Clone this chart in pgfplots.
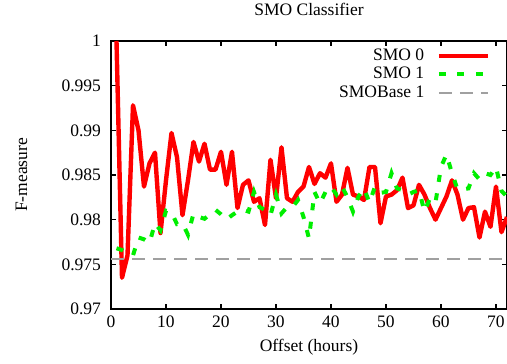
\documentclass[border=0pt]{standalone}
\usepackage{pgfplots}
\pgfplotsset{compat=1.18}
\usepackage{fontspec}
\setmainfont{Liberation Serif}
\definecolor{smored}{RGB}{255,0,0}
\definecolor{smogreen}{RGB}{0,238,0}
\definecolor{smogray}{RGB}{160,160,160}
\begin{document}
\begin{tikzpicture}
\useasboundingbox (0,0) rectangle (507bp,364bp);
\begin{axis}[
  at={(111bp,55bp)}, anchor=south west,
  scale only axis, width=396bp, height=268bp,
  xmin=0, xmax=72, ymin=0.97, ymax=1,
  xtick={0,10,20,30,40,50,60,70},
  ytick={0.97,0.975,0.98,0.985,0.99,0.995,1},
  yticklabels={0.97,0.975,0.98,0.985,0.99,0.995,1},
  scaled y ticks=false,
  /pgf/number format/assume math mode=true,
  font=\fontsize{17.5bp}{20bp}\selectfont,
  tick align=inside, major tick length=5bp,
  every tick/.style={black, line width=1.2bp},
  axis line style={line width=2bp},
  yticklabel style={xshift=-6.5bp},
  xticklabel style={yshift=-3bp},
  title={SMO Classifier},
  title style={at={(0.5,1)}, anchor=base, yshift=20bp, inner sep=0pt},
  xlabel={Offset (hours)},
  xlabel style={at={(0.5,0)}, anchor=base, yshift=-42bp, inner sep=0pt},
  ylabel={F-measure},
  ylabel style={at={(axis description cs:-0.212,0.5)}, anchor=base, inner sep=0pt},
  legend style={draw=none, fill=none, legend plot pos=right, legend cell align=right,
    at={(0.958,0.976)}, anchor=north east, inner sep=0pt,
    nodes={inner sep=0.5bp, text height=12bp, text depth=3.5bp},
    row sep=2bp, column sep=12bp},
  legend image code/.code={\draw[#1] (0bp,0bp) -- (49bp,0bp);},
]
\addplot[smored, line width=4.4bp, line join=round] coordinates {
(1,1.0) (2,0.9735) (3,0.9760) (4,0.9928) (5,0.9900) (6,0.9837) (7,0.9863) (8,0.9875)
(9,0.9785) (10,0.9844) (11,0.9897) (12,0.9870) (13,0.9805) (14,0.9844) (15,0.9887)
(16,0.9865) (17,0.9885) (18,0.9856) (19,0.9856) (20,0.9876) (21,0.9839) (22,0.9876)
(23,0.9813) (24,0.9839) (25,0.9844) (26,0.9820) (27,0.9824) (28,0.9794) (29,0.9867)
(30,0.9824) (31,0.9881) (32,0.9824) (33,0.9820) (34,0.9831) (35,0.9837) (36,0.9859)
(37,0.9840) (38,0.9852) (39,0.9847) (40,0.9863) (41,0.9820) (42,0.9828) (43,0.9858)
(44,0.9828) (45,0.9826) (46,0.9822) (47,0.9859) (48,0.9859) (49,0.9796) (50,0.9826)
(51,0.9828) (52,0.9833) (53,0.9847) (54,0.9813) (55,0.9816) (56,0.9839) (57,0.9828)
(58,0.9813) (59,0.9800) (60,0.9813) (61,0.9826) (62,0.9844) (63,0.9828) (64,0.9800)
(65,0.9813) (66,0.9814) (67,0.9780) (68,0.9809) (69,0.9792) (70,0.9837) (71,0.9786)
(72,0.9803)
};
\addlegendentry{SMO 0}
\addplot[smogreen, line width=4bp, dash pattern=on 7bp off 11.5bp] coordinates {
(1,0.9768) (2,0.9766) (3,0.9762) (4,0.9760) (5,0.9780) (6,0.9778) (7,0.9774) (8,0.9796)
(9,0.9788) (10,0.9810) (11,0.9808) (12,0.9795) (13,0.9796) (14,0.9783) (15,0.9807)
(16,0.9803) (17,0.9801) (18,0.9806) (19,0.9811) (20,0.9806) (21,0.9800) (22,0.9805)
(23,0.9809) (24,0.9811) (25,0.9809) (26,0.9831) (27,0.9814) (28,0.9811) (29,0.9805)
(30,0.9828) (31,0.9807) (32,0.9814) (33,0.9814) (34,0.9822) (35,0.9803) (36,0.9779)
(37,0.9831) (38,0.9818) (39,0.9831) (40,0.9837) (41,0.9828) (42,0.9837) (43,0.9825)
(44,0.9809) (45,0.9826) (46,0.9835) (47,0.9819) (48,0.9837) (49,0.9830) (50,0.9831)
(51,0.9852) (52,0.9835) (53,0.9833) (54,0.9828) (55,0.9831) (56,0.9833) (57,0.9809)
(58,0.9824) (59,0.9819) (60,0.9859) (61,0.9873) (62,0.9852) (63,0.9834) (64,0.9834)
(65,0.9835) (66,0.9852) (67,0.9845) (68,0.9852) (69,0.9850) (70,0.9859) (71,0.9832)
(72,0.9826)
};
\addlegendentry{SMO 1}
\addplot[smogray, line width=2bp, dash pattern=on 13bp off 8bp] coordinates {
(0,0.97556) (72,0.97556)
};
\addlegendentry{SMOBase 1}
\end{axis}
\end{tikzpicture}
\end{document}
